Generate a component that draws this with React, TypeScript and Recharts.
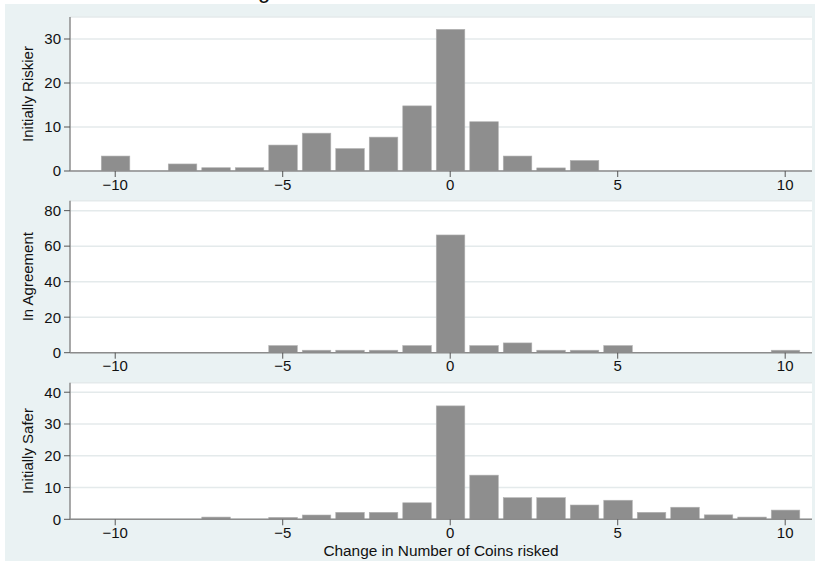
import React from 'react';
import { BarChart, Bar, XAxis, YAxis, CartesianGrid } from 'recharts';

const bins = [-10, -9, -8, -7, -6, -5, -4, -3, -2, -1, 0, 1, 2, 3, 4, 5, 6, 7, 8, 9, 10];
const riskier = [3.4, 0, 1.6, 0.75, 0.75, 5.9, 8.6, 5.1, 7.7, 14.8, 32.2, 11.2, 3.4, 0.7, 2.4, 0, 0, 0, 0, 0, 0];
const agreement = [0, 0, 0, 0, 0, 4.0, 1.4, 1.4, 1.4, 4.0, 66.3, 4.0, 5.5, 1.4, 1.4, 4.0, 0, 0, 0, 0, 1.4];
const safer = [0, 0, 0, 0.7, 0, 0.6, 1.35, 2.2, 2.2, 5.2, 35.7, 13.9, 6.8, 6.8, 4.5, 6.0, 2.2, 3.8, 1.4, 0.7, 2.9];

const xTicks = [-10, -5, 0, 5, 10];
const riskierTicks = [0, 10, 20, 30];
const agreementTicks = [0, 20, 40, 60, 80];
const saferTicks = [0, 10, 20, 30, 40];
const panelLabels = ['Initially Riskier', 'In Agreement', 'Initially Safer'];
const xTitle = 'Change in Number of Coins risked';

const FONT = '"Liberation Sans", Arial, sans-serif';
const W = 821;
const H = 561;

const BarShape = (p: any) => {
  const { x, y, width, height } = p;
  if (!height || height <= 0.2) return <g />;
  return (
    <rect
      x={x + 0.8}
      y={y}
      width={Math.max(0, width - 1.6)}
      height={height}
      fill="#8e8e8e"
      stroke="#b2b2b2"
      strokeWidth={0.6}
    />
  );
};

type PanelProps = {
  values: number[];
  ticks: number[];
  yMax: number;
  plotTop: number;
  plotBottom: number;
};

const Panel = ({ values, ticks, yMax, plotTop, plotBottom }: PanelProps) => {
  const data = bins.map((b, i) => ({ bin: b, v: values[i] }));
  const xAxisH = 30;
  const height = plotBottom + xAxisH;
  const tickStyle = { fill: '#111', fontSize: 15, fontFamily: FONT };
  return (
    <div style={{ position: 'absolute', left: 0, top: 0 }}>
      <BarChart
        width={W}
        height={height}
        data={data}
        margin={{ top: plotTop, right: 9, bottom: 0, left: 0 }}
        barCategoryGap={0}
        barGap={0}
      >
        <CartesianGrid vertical={false} fill="#ffffff" stroke="#e4eaeb" strokeWidth={1.5} />
        <XAxis
          dataKey="bin"
          type="number"
          domain={[-11.35, 10.8]}
          ticks={xTicks}
          tickFormatter={(v: number) => (v < 0 ? '\u2212' + Math.abs(v) : String(v))}
          height={xAxisH}
          tickSize={6}
          tickMargin={2}
          axisLine={{ stroke: '#8c8c8c', strokeWidth: 1.5 }}
          tickLine={{ stroke: '#555', strokeWidth: 1 }}
          tick={tickStyle}
          interval={0}
        />
        <YAxis
          type="number"
          domain={[0, yMax]}
          ticks={ticks}
          width={70}
          tickSize={6}
          tickMargin={3}
          axisLine={{ stroke: '#8c8c8c', strokeWidth: 1.5 }}
          tickLine={{ stroke: '#555', strokeWidth: 1 }}
          tick={tickStyle}
          interval={0}
          allowDataOverflow
        />
        <Bar dataKey="v" barSize={33.5} shape={BarShape} isAnimationActive={false} />
      </BarChart>
    </div>
  );
};

const panels = [
  { values: riskier, ticks: riskierTicks, yMax: 35, plotTop: 17, plotBottom: 171 },
  { values: agreement, ticks: agreementTicks, yMax: 85.6, plotTop: 200.7, plotBottom: 352.7 },
  { values: safer, ticks: saferTicks, yMax: 43, plotTop: 382.7, plotBottom: 519.3 },
];

export default function App() {
  return (
    <div
      style={{
        position: 'fixed',
        left: 0,
        top: 0,
        width: W,
        height: H,
        background: '#ffffff',
        overflow: 'hidden',
      }}
    >
      <div
        style={{ position: 'absolute', left: 5, top: 4, width: 810, height: 557, background: '#eaf2f3' }}
      />
      {panels.map((p, i) => (
        <Panel key={i} {...p} />
      ))}
      <svg
        width={W}
        height={H}
        style={{ position: 'absolute', left: 0, top: 0, pointerEvents: 'none' }}
      >
        <text x={264} y={-2.5} fontSize={22} fontFamily={FONT} textAnchor="middle" fill="#111">
          g
        </text>
        {panels.map((p, i) => {
          const cy = (p.plotTop + p.plotBottom) / 2;
          return (
            <text
              key={i}
              x={33}
              y={cy}
              transform={`rotate(-90 33 ${cy})`}
              fontSize={15}
              fontFamily={FONT}
              textAnchor="middle"
              fill="#111"
            >
              {panelLabels[i]}
            </text>
          );
        })}
        <text x={441} y={556} fontSize={15.4} fontFamily={FONT} textAnchor="middle" fill="#111">
          {xTitle}
        </text>
      </svg>
    </div>
  );
}
